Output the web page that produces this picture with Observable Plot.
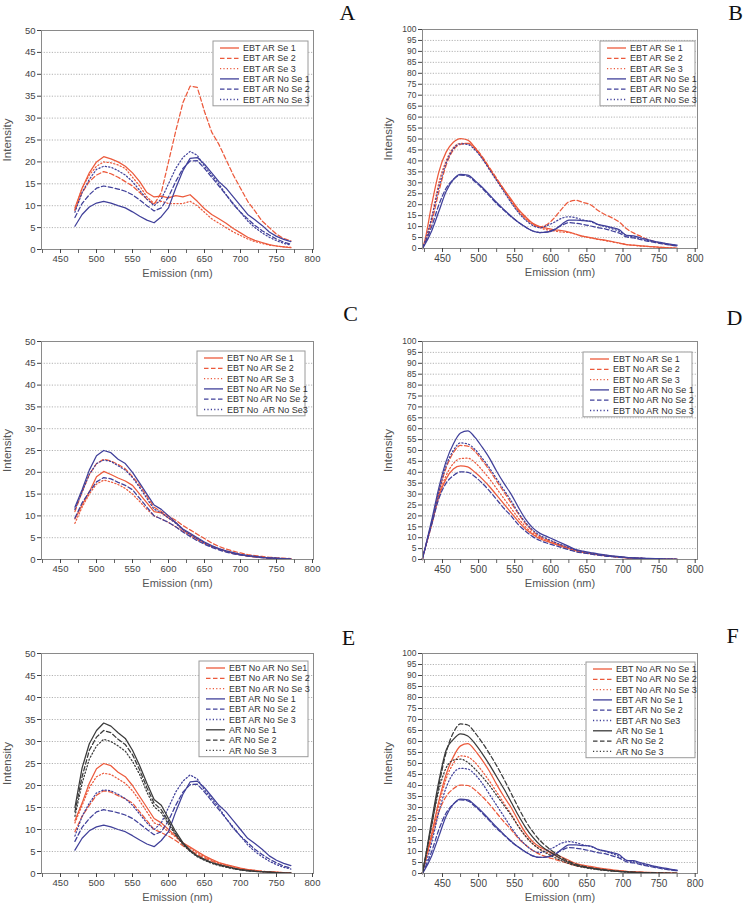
<!DOCTYPE html>
<html><head><meta charset="utf-8">
<script src="https://cdn.jsdelivr.net/npm/d3@7"></script>
<script src="https://cdn.jsdelivr.net/npm/@observablehq/plot@0.6"></script>
<style>
body{margin:0;background:#fff;}
#page{position:relative;width:744px;height:908px;overflow:hidden;background:#fff;font-family:"Liberation Sans",Arial,sans-serif;}
#page svg{position:absolute;}
</style></head><body><div id="page"></div>
<script>
// ---------- wavelengths (nm) ----------
const xShort = [470,480,490,500,510,520,530,540,550,560,570,580,590,600,610,620,630,640,650,660,670,680,690,700,710,720,730,740,750,760,770];
const xLong = [422,425,435,445,455,465,475,485,495,505,515,525,535,545,555,565,575,585,595,605,615,625,635,645,655,665,675,685,695,705,715,725,735,745,755,765,775];
const xMajor = [450,500,550,600,650,700,750,800];
const xMinor = [425,475,525,575,625,675,725,775];
const yTicks50 = [0,5,10,15,20,25,30,35,40,45,50];
const yTicks100 = [0,5,10,15,20,25,30,35,40,45,50,55,60,65,70,75,80,85,90,95,100];

// ---------- panel A / E (short range) ----------
const EBT_AR_Se_1 = [9.5,14,17.5,20,21.2,20.7,20,19,17.5,15.5,13,12,12.2,11.8,12.3,12,12.5,11,9.3,8,7,6,4.8,3.8,2.8,2.1,1.6,1.1,0.8,0.6,0.4];
const EBT_AR_Se_2 = [9,13,15.5,17,17.8,17.3,16.5,15.5,14.5,13,11.5,10.3,13,20,27,33.5,37.3,37,31.5,26.8,24,20.5,17,14,11,8.8,6.5,5,3.5,2.5,2];
const EBT_AR_Se_3 = [9,14,17,19,20,19.8,19.3,18.5,16.5,14.5,12,10.5,11,10.5,10.5,10.5,11,10,8.5,7,6,5,4,3.2,2.4,1.8,1.4,1,0.8,0.6,0.5];
const EBT_AR_No_Se_1 = [5.3,8,9.7,10.6,11,10.6,10,9.5,8.6,7.6,6.7,6.1,7.5,9.5,14,18,20.8,21,19.5,17.5,15.5,14,12,10,8,6.8,5.5,4,3,2.3,1.8];
const EBT_AR_No_Se_2 = [7.3,10.5,12.5,14,14.5,14.2,13.8,13.3,12.5,11.3,10,8.8,9.5,12,15.5,18.5,20.2,20.3,18.5,16.5,14.5,12.5,10.3,8.5,7,5.5,4.3,3.3,2.4,1.7,1.2];
const EBT_AR_No_Se_3 = [8.5,13,16,18.3,19,18.8,18,17,15.5,13.5,11.5,10,11.5,15,18.5,21,22.4,21.5,19,17,15,12.5,10.5,8.5,6.5,5,3.8,2.8,2,1.4,1];
// ---------- panel C / E ----------
const EBT_No_AR_Se_1 = [9.3,12.5,15.5,19,20.2,19.5,18.7,18,17,15,13,11,10.7,9.5,8.5,6.8,5.8,4.8,3.8,3,2.4,1.9,1.4,1.1,0.8,0.6,0.5,0.3,0.2,0.15,0.1];
const EBT_No_AR_Se_2 = [11,15.5,19.5,22,23,22.6,21.8,20.8,19,17,14.5,12,11,10,9,7.8,6.8,5.8,4.8,3.8,3,2.4,1.9,1.5,1.1,0.9,0.7,0.5,0.4,0.3,0.2];
const EBT_No_AR_Se_3 = [8.3,12,15,17.3,18.2,17.8,17.2,16.3,15,13.3,11.5,10,9.3,8.5,7.5,6.5,5.5,4.5,3.7,3,2.4,1.9,1.4,1.1,0.8,0.6,0.5,0.3,0.2,0.15,0.1];
const EBT_No_AR_No_Se_1 = [12,16,20.5,23.8,25,24.5,23,22,20,17.5,15,12.5,11.5,10,8.5,7,6,5,4,3.2,2.5,2,1.6,1.2,0.9,0.7,0.5,0.4,0.3,0.2,0.1];
const EBT_No_AR_No_Se_2 = [9.5,13,15.5,17.8,18.8,18.5,17.7,17,16,14,12,10,9.3,8.5,7.5,6.3,5.3,4.3,3.5,2.8,2.2,1.7,1.3,1,0.8,0.6,0.4,0.3,0.2,0.15,0.1];
const EBT_No_AR_No_Se_3 = [11.5,15.5,19.5,22,22.8,22.5,21.5,20.5,18.8,16.5,14,11.5,10.8,9.5,8.3,6.8,5.7,4.7,3.8,3,2.4,1.9,1.5,1.1,0.9,0.7,0.5,0.4,0.3,0.2,0.1];
const AR_No_Se_1 = [15,24,29.5,32.5,34.2,33.5,32,30.7,28,24.5,20.5,16.8,15.5,12.5,9.5,7,5.3,4,3.2,2.5,2,1.6,1.2,0.9,0.7,0.5,0.4,0.3,0.2,0.1,0.1];
const AR_No_Se_2 = [14,22,28,31,32.5,32,30.5,29.3,27,23.5,19.5,16,14.5,11.8,9,6.8,5.1,3.9,3.1,2.4,1.9,1.5,1.1,0.8,0.6,0.5,0.4,0.3,0.2,0.1,0.1];
const AR_No_Se_3 = [13,20.5,26,29,30.5,30,29,27.8,25.5,22.5,18.5,15.2,13.8,11.2,8.7,6.6,5,3.8,3,2.3,1.8,1.4,1.1,0.8,0.6,0.5,0.4,0.3,0.2,0.1,0.1];

// ---------- panel B / F (long range) ----------
const L_EBT_AR_Se_1 = [0,3,20,35,44,48.5,50.2,49.5,46,41.5,36.5,31.5,27,22.5,18,14.5,11.5,10,9.2,8.5,8.2,7.5,6.5,5.5,5,4.3,3.8,3.2,2.5,1.8,1.5,1.2,1,0.7,0.5,0.3,0.2];
const L_EBT_AR_Se_2 = [0,2,12,26,38,45,47.5,48,46,42,37,32,27,22,17.5,14,11.3,10,11,14,18,21.3,22,21,20,17.5,15.5,14,12,9,7,5.5,4,3,2.3,1.6,1.2];
const L_EBT_AR_Se_3 = [0,2,14,30,40,46,48,48,45.5,41.5,36.5,31.5,26.5,21.5,17,13.5,11,9.5,8.5,8,7.5,7.3,6.5,5.5,4.8,4.2,3.6,3,2.4,1.8,1.4,1.1,0.9,0.7,0.5,0.3,0.2];
const L_EBT_AR_No_Se_1 = [0,1.5,8,17,26,31.5,33.8,33.5,31,28,24.5,21,17.8,14.7,12,9.8,8,7.3,7.5,8.5,11,13,13,12.7,12.5,11,10.3,9.5,8.5,6,5.8,4.8,4,3.2,2.6,2,1.5];
const L_EBT_AR_No_Se_2 = [0,2,10,20,27.5,31.5,33.5,33,30.5,27.5,24,20.5,17.5,14.5,12,9.8,8,7.3,7.6,8.8,10.5,11.8,11.5,11,10.3,9.5,9,8,7,5.3,4.8,4,3.3,2.7,2.1,1.6,1.2];
const L_EBT_AR_No_Se_3 = [0,2.5,14,28,39,45.5,47.8,47.5,45,41,36,31,26,21,16.5,13,10.5,9.5,10.5,12,13.8,14.5,14,13,12.3,11,10,9,7.8,6,5.3,4.3,3.6,3,2.4,1.8,1.3];
// ---------- panel D / F ----------
const L_EBT_No_AR_Se_1 = [0,4,16,29,37,41.5,43,42.5,40,37,33.5,29.5,25.5,21.5,17.5,14,11.5,9.5,8.3,7.2,6,5,4,3.3,2.7,2.2,1.8,1.4,1.1,0.8,0.6,0.5,0.4,0.3,0.2,0.15,0.1];
const L_EBT_No_AR_Se_2 = [0,4,17,31,42,49,52.3,52,49.5,45.5,41,36,31,26,21,16.5,13,10.5,9,7.8,6.5,5.3,4.2,3.4,2.8,2.3,1.9,1.5,1.2,0.9,0.7,0.5,0.4,0.3,0.2,0.15,0.1];
const L_EBT_No_AR_Se_3 = [0,4,16,29.5,38.5,44,46.3,46.5,44.5,41,37,32.5,28,23.5,19,15,12,10,8.6,7.4,6.2,5.1,4.1,3.3,2.7,2.2,1.8,1.4,1.1,0.8,0.6,0.5,0.4,0.3,0.2,0.15,0.1];
const L_EBT_No_AR_No_Se_1 = [0,4,18,33,45,53,58,59,56,51.5,46.5,40.5,35,30,24,18.5,14.5,12,10.5,9,7.5,6,4.5,3.8,3.2,2.6,2.1,1.7,1.3,1,0.8,0.6,0.5,0.4,0.3,0.2,0.1];
const L_EBT_No_AR_No_Se_2 = [0,4,16,28,35,38.5,40.2,40,38,35,31.5,27.5,23.5,20,16,13,10.5,8.7,7.5,6.5,5.5,4.5,3.5,3,2.5,2,1.6,1.3,1,0.8,0.6,0.5,0.4,0.3,0.2,0.15,0.1];
const L_EBT_No_AR_No_Se_3 = [0,4,17,31,43,50,53.5,53,50.5,46.5,42,37,32,27,21.5,17,13.5,11,9.5,8,6.7,5.5,4.3,3.5,2.9,2.4,1.9,1.5,1.2,0.9,0.7,0.6,0.4,0.3,0.2,0.15,0.1];
const L_AR_No_Se_1 = [0,5,24,42,56,61,63.5,62.5,59,54.5,49.5,44,38.5,32.5,26.5,21,16.5,13,10.5,8.5,6.5,5,3.8,3,2.4,1.9,1.5,1.2,0.9,0.7,0.5,0.4,0.3,0.2,0.15,0.1,0.1];
const L_AR_No_Se_2 = [0,5,22,40,55,64,68,67.5,64,59.5,54.5,49,43,36.5,30,24,19,15,12,9.5,7.3,5.5,4.2,3.3,2.6,2.1,1.7,1.3,1,0.8,0.6,0.5,0.4,0.3,0.2,0.15,0.1];
const L_AR_No_Se_3 = [0,5,22,38,48,51.5,52,50.5,47.5,44,40,35.5,31,26.5,21.5,17,13.5,11,9,7.3,5.8,4.5,3.5,2.8,2.2,1.8,1.4,1.1,0.9,0.7,0.5,0.4,0.3,0.2,0.15,0.1,0.1];

// ---------- legend labels ----------
const labelsAB = ["EBT AR Se 1","EBT AR Se 2","EBT AR Se 3","EBT AR No Se 1","EBT AR No Se 2","EBT AR No Se 3"];
const labelsC = ["EBT No AR Se 1","EBT No AR Se 2","EBT No AR Se 3","EBT No AR No Se 1","EBT No AR No Se 2","EBT No  AR No Se3"];
const labelsD = ["EBT No AR Se 1","EBT No AR Se 2","EBT No AR Se 3","EBT No AR No Se 1","EBT No AR No Se 2","EBT No AR No Se 3"];
const labelsE = ["EBT No AR No Se1","EBT No AR No Se 2","EBT No AR No Se 3","EBT AR No Se 1","EBT AR No Se 2","EBT AR No Se 3","AR No Se 1","AR No Se 2","AR No Se 3"];
const labelsF = ["EBT No AR No Se 1","EBT No AR No Se 2","EBT No AR No Se 3","EBT AR No Se 1","EBT AR No Se 2","EBT AR No Se3","AR No Se 1","AR No Se 2","AR No Se 3"];

// ---------- styles ----------
const RED = "#ec5a3c", BLUE = "#40409a", BLACK = "#3a3a3a";
const DASH = "4.5,2.5", DOT = "1.2,2.2";
const styles9 = [[RED,null],[RED,DASH],[RED,DOT],[BLUE,null],[BLUE,DASH],[BLUE,DOT],[BLACK,null],[BLACK,DASH],[BLACK,DOT]];

function mk(labels, values) {
  return labels.map((label, i) => ({label, values: values[i], color: styles9[i][0], dash: styles9[i][1]}));
}

const panels = [
  {letter:"A", left:0, top:0, height:290, margin:{top:30,right:59,bottom:41,left:41}, xDomain:[423.6,801.4], yDomain:[0,50], yTicks:yTicks50, xs:xShort, curve:"linear", fx:9.5, fy:9.5, letterOff:[34,-18], legend:{right:5, top:11, width:95},
   series: mk(labelsAB,[EBT_AR_Se_1,EBT_AR_Se_2,EBT_AR_Se_3,EBT_AR_No_Se_1,EBT_AR_No_Se_2,EBT_AR_No_Se_3])},
  {letter:"B", left:372, top:0, height:290, margin:{top:29,right:47,bottom:42,left:50}, xDomain:[422.3,803.2], yDomain:[0,100], yTicks:yTicks100, xs:xLong, curve:"monotone-x", fx:10, fy:8.5, letterOff:[38,-17], legend:{right:2, top:12, width:95},
   series: mk(labelsAB,[L_EBT_AR_Se_1,L_EBT_AR_Se_2,L_EBT_AR_Se_3,L_EBT_AR_No_Se_1,L_EBT_AR_No_Se_2,L_EBT_AR_No_Se_3])},
  {letter:"C", left:0, top:290, height:305, margin:{top:51,right:59,bottom:36,left:41}, xDomain:[423.6,801.4], yDomain:[0,50], yTicks:yTicks50, xs:xShort, curve:"linear", fx:9.5, fy:9.5, letterOff:[37,-28], legend:{right:8, top:10, width:108},
   series: mk(labelsC,[EBT_No_AR_Se_1,EBT_No_AR_Se_2,EBT_No_AR_Se_3,EBT_No_AR_No_Se_1,EBT_No_AR_No_Se_2,EBT_No_AR_No_Se_3])},
  {letter:"D", left:372, top:290, height:305, margin:{top:51,right:47,bottom:36,left:50}, xDomain:[422.3,803.2], yDomain:[0,100], yTicks:yTicks100, xs:xLong, curve:"monotone-x", fx:10, fy:8.5, letterOff:[37,-24], legend:{right:5, top:11, width:109},
   series: mk(labelsD,[L_EBT_No_AR_Se_1,L_EBT_No_AR_Se_2,L_EBT_No_AR_Se_3,L_EBT_No_AR_No_Se_1,L_EBT_No_AR_No_Se_2,L_EBT_No_AR_No_Se_3])},
  {letter:"E", left:0, top:595, height:313, margin:{top:58,right:59,bottom:35,left:41}, xDomain:[423.6,801.4], yDomain:[0,50], yTicks:yTicks50, xs:xShort, curve:"linear", fx:9.5, fy:9.5, letterOff:[35,-16], legend:{right:5, top:8, width:109},
   series: mk(labelsE,[EBT_No_AR_No_Se_1,EBT_No_AR_No_Se_2,EBT_No_AR_No_Se_3,EBT_AR_No_Se_1,EBT_AR_No_Se_2,EBT_AR_No_Se_3,AR_No_Se_1,AR_No_Se_2,AR_No_Se_3])},
  {letter:"F", left:372, top:595, height:313, margin:{top:58,right:47,bottom:35,left:50}, xDomain:[422.3,803.2], yDomain:[0,100], yTicks:yTicks100, xs:xLong, curve:"monotone-x", fx:10, fy:8.5, letterOff:[35,-18], legend:{right:2, top:9, width:109},
   series: mk(labelsF,[L_EBT_No_AR_No_Se_1,L_EBT_No_AR_No_Se_2,L_EBT_No_AR_No_Se_3,L_EBT_AR_No_Se_1,L_EBT_AR_No_Se_2,L_EBT_AR_No_Se_3,L_AR_No_Se_1,L_AR_No_Se_2,L_AR_No_Se_3])}
];

const page = document.getElementById("page");
const W = 372;
for (const p of panels) {
  const m = p.margin;
  const svg = Plot.plot({
    width: W, height: p.height,
    marginTop: m.top, marginRight: m.right, marginBottom: m.bottom, marginLeft: m.left,
    style: {background: "transparent", overflow: "visible", fontFamily: "'Liberation Sans', Arial, sans-serif"},
    x: {domain: p.xDomain},
    y: {domain: p.yDomain},
    marks: [
      Plot.gridY({ticks: p.yTicks, stroke: "#a0a0a0", strokeOpacity: 1, strokeWidth: 0.8, strokeDasharray: "1.2,1.5"}),
      ...p.series.map(s => Plot.line(p.xs.map((x, j) => ({x, y: s.values[j]})), {
        x: "x", y: "y", stroke: s.color, strokeWidth: 1.25, strokeDasharray: s.dash, curve: p.curve
      })),
      Plot.frame({stroke: "#8a8a8a"}),
      Plot.axisX({ticks: xMinor, tickSize: 4, tickFormat: () => "", label: null, stroke: "#666"}),
      Plot.axisX({ticks: xMajor, tickSize: 4, tickPadding: 2, label: null, fontSize: p.fx, color: "#444"}),
      Plot.axisY({ticks: p.yTicks, tickSize: 4, tickPadding: 2, label: null, fontSize: p.fy, color: "#444"}),
      Plot.text(["Emission (nm)"], {text: d => d, frameAnchor: "bottom", dy: 27, fontSize: 11, fontWeight: 400, fill: "#555"}),
      Plot.text(["Intensity"], {text: d => d, frameAnchor: "left", dx: -34, rotate: -90, textAnchor: "middle", lineAnchor: "middle", fontSize: 11.5, fontWeight: 400, fill: "#555"}),
      Plot.text([p.letter], {text: d => d, frameAnchor: "top-right", dx: p.letterOff[0], dy: p.letterOff[1], textAnchor: "middle", lineAnchor: "middle", fontSize: 22, fontFamily: "'Liberation Serif', 'DejaVu Serif', serif", fill: "#111"})
    ]
  });
  svg.style.left = p.left + "px";
  svg.style.top = p.top + "px";

  // legend box inside the frame (top-right)
  const frameRight = W - m.right;
  const n = p.series.length;
  const bx = frameRight - p.legend.right - p.legend.width;
  const by = m.top + p.legend.top;
  const g = d3.select(svg).append("g").attr("transform", `translate(${bx},${by})`)
    .attr("text-anchor", "start");
  g.append("rect").attr("width", p.legend.width).attr("height", n * 10.3 + 3)
    .attr("fill", "#fff").attr("stroke", "#9a9a9a").attr("stroke-width", 1);
  p.series.forEach((s, i) => {
    const cy = 7 + i * 10.3;
    g.append("line").attr("x1", 7).attr("x2", 26).attr("y1", cy).attr("y2", cy)
      .attr("stroke", s.color).attr("stroke-width", 1.3).attr("stroke-dasharray", s.dash);
    g.append("text").attr("x", 30).attr("y", cy).attr("dy", "0.35em")
      .attr("text-anchor", "start")
      .attr("font-size", 9).attr("fill", "#333")
      .style("white-space", "pre").style("font-family", "'Liberation Sans', Arial, sans-serif")
      .text(s.label);
  });
  page.appendChild(svg);
}
</script>
</body></html>
